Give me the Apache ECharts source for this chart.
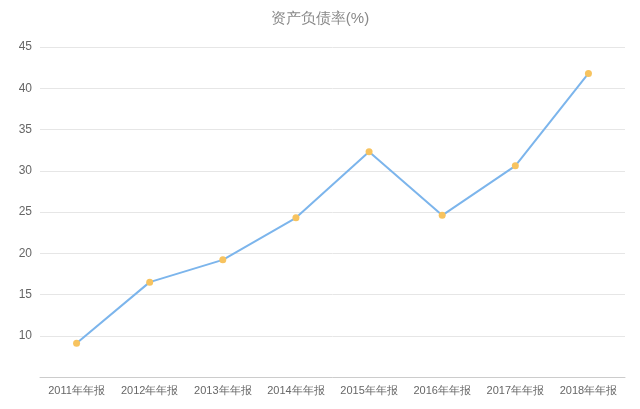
<!DOCTYPE html>
<html>
<head>
<meta charset="utf-8">
<script src="https://cdn.jsdelivr.net/npm/echarts@6/dist/echarts.min.js"></script>
<style>html,body{margin:0;padding:0;background:#fff}#chart{width:640px;height:409px}</style>
</head>
<body>
<div id="chart"></div>
<script>
var categories = ['2011年年报', '2012年年报', '2013年年报', '2014年年报', '2015年年报', '2016年年报', '2017年年报', '2018年年报'];
var debtRatio = [9.1, 16.5, 19.2, 24.3, 32.3, 24.6, 30.6, 41.8];

var chart = echarts.init(document.getElementById('chart'));
chart.setOption({
    backgroundColor: '#fff',
    title: {
        text: '资产负债率(%)',
        left: 'center',
        top: 6,
        textStyle: { color: '#888', fontSize: 15, fontWeight: 'normal' }
    },
    grid: { left: 40, right: 15, top: 47, bottom: 32 },
    xAxis: {
        type: 'category',
        data: categories,
        boundaryGap: true,
        axisLine: { lineStyle: { color: '#ccc' } },
        axisTick: { lineStyle: { color: '#ccc' } },
        axisLabel: { color: '#666', fontSize: 11, interval: 0 }
    },
    yAxis: {
        type: 'value',
        min: 5,
        max: 45,
        interval: 5,
        axisLine: { show: false },
        axisTick: { show: false },
        axisLabel: { color: '#666', fontSize: 12, showMinLabel: false },
        splitLine: { lineStyle: { color: '#e6e6e6' } }
    },
    series: [{
        type: 'line',
        data: debtRatio,
        symbol: 'circle',
        symbolSize: 7,
        lineStyle: { color: '#7cb5ec', width: 2 },
        itemStyle: { color: '#f7c35f' }
    }]
});
</script>
</body>
</html>
